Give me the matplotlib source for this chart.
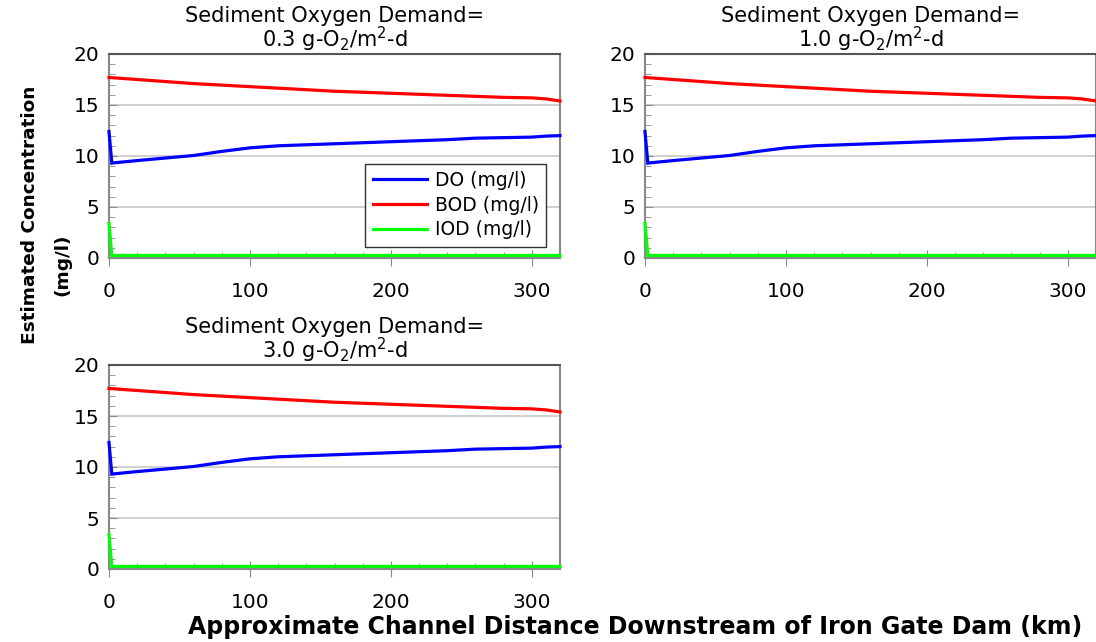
import numpy as np
import matplotlib
matplotlib.use("Agg")
import matplotlib.pyplot as plt
from matplotlib.ticker import MultipleLocator

# Distance downstream of Iron Gate Dam (km)
distance = [0, 2, 5, 20, 40, 60, 80, 100, 120, 140, 160, 180, 200, 220, 240,
            260, 280, 300, 310, 320]

# Dissolved oxygen (mg/l)
do_conc = [12.4, 9.3, 9.35, 9.55, 9.8, 10.05, 10.45, 10.8, 11.0, 11.1, 11.2,
           11.3, 11.4, 11.5, 11.6, 11.75, 11.8, 11.85, 11.95, 12.0]

# Biochemical oxygen demand (mg/l)
bod_conc = [17.7, 17.68, 17.65, 17.5, 17.3, 17.1, 16.95, 16.8, 16.65, 16.5,
            16.35, 16.25, 16.15, 16.05, 15.95, 15.85, 15.75, 15.7, 15.6, 15.4]

# Instantaneous oxygen demand (mg/l)
iod_conc = [3.4, 0.25, 0.25, 0.25, 0.25, 0.25, 0.25, 0.25, 0.25, 0.25, 0.25,
            0.25, 0.25, 0.25, 0.25, 0.25, 0.25, 0.25, 0.25, 0.25]

sod_labels = ["0.3", "1.0", "3.0"]
series_names = ["DO (mg/l)", "BOD (mg/l)", "IOD (mg/l)"]
series_colors = ["#0000ff", "#ff0000", "#00ff00"]

plt.rcParams["font.family"] = ["DejaVu Sans"]
plt.rcParams["mathtext.fontset"] = "dejavusans"

W, H = 1096, 642
fig = plt.figure(figsize=(W / 100, H / 100), dpi=100)


def add_axes_px(left, top, right, bottom):
    return fig.add_axes([left / W, 1 - bottom / H, (right - left) / W, (bottom - top) / H])


panels = [
    add_axes_px(109, 54, 560, 258),
    add_axes_px(645, 54, 1096, 258),
    add_axes_px(109, 365, 560, 569),
]

for i, (ax, sod) in enumerate(zip(panels, sod_labels)):
    series = [do_conc, bod_conc, iod_conc]
    lines = []
    for vals, name, col in zip(series, series_names, series_colors):
        ln, = ax.plot(distance, vals, color=col, lw=2.3, label=name, zorder=3,
                      solid_joinstyle="miter", clip_on=False)
        lines.append(ln)
    ax.set_xlim(0, 320)
    ax.set_ylim(0, 20)
    ax.xaxis.set_major_locator(MultipleLocator(100))
    ax.xaxis.set_minor_locator(MultipleLocator(20))
    ax.yaxis.set_major_locator(MultipleLocator(5))
    ax.yaxis.set_minor_locator(MultipleLocator(1))
    ax.tick_params(axis="y", which="major", direction="in", length=6,
                   color="#888888", labelsize=14.5, pad=7)
    ax.tick_params(axis="y", which="minor", direction="in", length=4,
                   color="#888888")
    ax.tick_params(axis="x", which="major", direction="inout", length=12,
                   color="#888888", labelsize=14.5, pad=11)
    ax.tick_params(axis="x", which="minor", direction="in", length=4,
                   color="#888888")
    ax.grid(axis="y", which="major", color="#c8c8c8", lw=1.2, zorder=0)
    for side in ["left", "bottom", "right"]:
        ax.spines[side].set_color("#888888")
        ax.spines[side].set_linewidth(1.5)
    ax.spines["top"].set_color("#555555")
    ax.spines["top"].set_linewidth(1.5)
    ax.set_title("Sediment Oxygen Demand=\n" + sod + r" g-O$_2$/m$^2$-d",
                 fontsize=15, pad=1, linespacing=0.95)
    if i == 0:
        leg = ax.legend(handles=lines, loc="lower right",
                        bbox_to_anchor=(0.97, 0.055), fontsize=13.5,
                        frameon=True, fancybox=False, framealpha=1,
                        edgecolor="#333333", handlelength=2.9,
                        borderpad=0.4, labelspacing=0.3, handletextpad=0.4,
                        borderaxespad=0)
        leg.get_frame().set_linewidth(1.0)

fig.text(30 / W, 1 - 215 / H, "Estimated Concentration", rotation=90,
         ha="center", va="center", fontsize=13.3, fontweight="bold")
fig.text(62 / W, 1 - 265 / H, "(mg/l)", rotation=90,
         ha="center", va="center", fontsize=13.3, fontweight="bold")
fig.text(635 / W, 1 - 627 / H,
         "Approximate Channel Distance Downstream of Iron Gate Dam (km)",
         ha="center", va="center", fontsize=17, fontweight="bold")

fig.savefig("out.png", dpi=100)
